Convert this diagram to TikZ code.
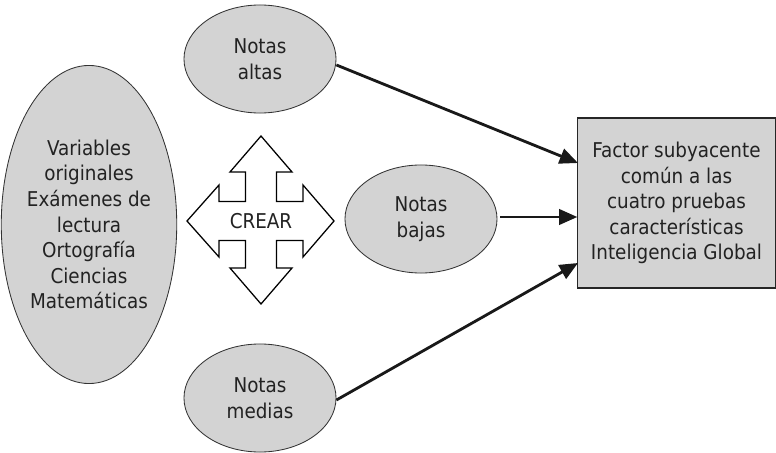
\documentclass[tikz,border=0pt]{standalone}
\usepackage{fontspec}
\setmainfont{DejaVu Sans Condensed}
\usepackage{tikz}
\usetikzlibrary{positioning,shapes,arrows.meta}

\definecolor{fondo}{RGB}{211,211,211}
\definecolor{texto}{RGB}{34,34,34}

\tikzset{
  nota/.style={ellipse, draw=black!80, line width=0.6pt, fill=fondo, text=texto,
    minimum width=3.8cm, minimum height=2.7cm, align=center, inner sep=0pt},
  flecha/.style={line width=2pt, color=black!90, -{Triangle[length=13pt,width=11pt]}}
}

\begin{document}
\begin{tikzpicture}[x=0.025cm, y=-0.025cm, font=\fontsize{14.5}{18.2}\selectfont]
    \useasboundingbox (0,0) rectangle (776,453);

    \node[nota, minimum width=4.2cm, minimum height=7.95cm] (vars) at (89,224.5) {Variables\\originales\\Exámenes de\\lectura\\Ortografía\\Ciencias\\Matemáticas};

    \node[nota] (altas)  at (260,59)  {Notas\\altas};
    \node[nota] (bajas)  at (421,219) {Notas\\bajas};
    \node[nota] (medias) at (260,398) {Notas\\medias};

    \node[rectangle, draw=black!85, line width=0.8pt, fill=fondo, text=texto, align=center,
      minimum width=4.93cm, minimum height=4.25cm, inner sep=0pt] (factor) at (676.5,203)
      {Factor subyacente\\común a las\\cuatro pruebas\\características\\Inteligencia Global};

    % flecha cruzada
    \coordinate (crear) at (261,221);
    \draw[line width=0.9pt, fill=white, line join=miter, shift={(crear)}]
      (0,-85) -- (31,-49) -- (15.5,-49) -- (15.5,-19.5) -- (42,-19.5) -- (42,-36)
      -- (73,0) -- (42,36) -- (42,19.5) -- (15.5,19.5) -- (15.5,47) -- (31,47)
      -- (0,83) -- (-31,47) -- (-15.5,47) -- (-15.5,19.5) -- (-42,19.5) -- (-42,36)
      -- (-74,0) -- (-42,-36) -- (-42,-19.5) -- (-15.5,-19.5) -- (-15.5,-49) -- (-31,-49) -- cycle;
    \node[text=texto] (crearlbl) at (crear) {CREAR};

    \coordinate (t1) at (578,163);
    \coordinate (t3) at (578,263);
    \draw[flecha] (altas.east) ++(0,6) -- (t1);
    \draw[flecha] (bajas.east) ++(3,-2) -- (factor.west |- 0,217);
    \draw[flecha] (medias.east) ++(0,2) -- (t3);
\end{tikzpicture}
\end{document}
